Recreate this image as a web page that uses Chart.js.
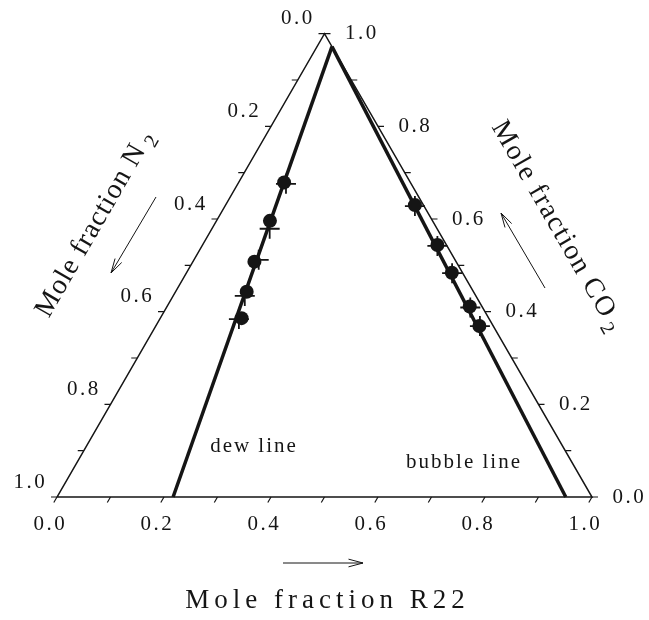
<!DOCTYPE html>
<html>
<head>
<meta charset="utf-8">
<script src="https://cdn.jsdelivr.net/npm/chart.js@4.4.1/dist/chart.umd.min.js"></script>
<style>
  html, body { margin: 0; padding: 0; background: #fff; }
  #wrap { width: 649px; height: 620px; }
</style>
</head>
<body>
<div id="wrap"><canvas id="ternaryChart" width="649" height="620"></canvas></div>
<script>
// mole fractions of N2 and CO2; R22 makes up the rest
const dewExpN2 = [0.236, 0.304, 0.377, 0.424, 0.462];
const dewExpCO2 = [0.679, 0.596, 0.508, 0.443, 0.386];
const dewCalcN2 = [0.234, 0.313, 0.367, 0.432, 0.468];
const dewCalcCO2 = [0.676, 0.579, 0.512, 0.434, 0.384];

const bubbleExpN2 = [0.016, 0.017, 0.020, 0.023, 0.026];
const bubbleExpCO2 = [0.630, 0.544, 0.484, 0.411, 0.369];
const bubbleCalcN2 = [0.017, 0.018, 0.020, 0.023, 0.025];
const bubbleCalcCO2 = [0.628, 0.542, 0.483, 0.409, 0.369];

// end points of the two phase boundaries
const dewLineN2 = [0.0, 0.783];
const dewLineCO2 = [0.972, 0.0];
const bubbleLineN2 = [0.0, 0.049];
const bubbleLineCO2 = [0.972, 0.0];

const tickSteps = [0, 0.1, 0.2, 0.3, 0.4, 0.5, 0.6, 0.7, 0.8, 0.9, 1.0];
const tickLabels = ["0.0", "0.2", "0.4", "0.6", "0.8", "1.0"];
const labelSteps = [0, 0.2, 0.4, 0.6, 0.8, 1.0];

const ink = "#151515";
const serif = "'Liberation Serif', 'DejaVu Serif', serif";
const H = Math.sqrt(3) / 2;

// ternary -> cartesian: R22 corner bottom right, N2 bottom left, CO2 on top
function toXY(n2, co2) {
  const r22 = 1 - n2 - co2;
  return { x: r22 + 0.5 * co2, y: co2 * H };
}

function series(n2s, co2s) {
  return n2s.map((n, i) => toXY(n, co2s[i]));
}

const frame = [toXY(1, 0), toXY(0, 0), toXY(0, 1), toXY(1, 0)];

function spaced(ctx, str, x, y, gap) {
  // centred text with extra room between the characters
  const chars = [...str];
  const widths = chars.map(c => ctx.measureText(c).width);
  const total = widths.reduce((a, b) => a + b, 0) + gap * (chars.length - 1);
  let cx = x - total / 2;
  ctx.textAlign = "left";
  chars.forEach((c, i) => {
    ctx.fillText(c, cx, y);
    cx += widths[i] + gap;
  });
}

function title(ctx, main, sub, cx, cy, angle, size, gap) {
  ctx.save();
  ctx.translate(cx, cy);
  ctx.rotate(angle);
  ctx.font = size + "px " + serif;
  const chars = [...main];
  const widths = chars.map(c => ctx.measureText(c).width);
  let mainW = widths.reduce((a, b) => a + b, 0) + gap * (chars.length - 1);
  ctx.font = Math.round(size * 0.72) + "px " + serif;
  const subW = sub ? ctx.measureText(sub).width + 6 : 0;
  let x = -(mainW + subW) / 2;
  ctx.font = size + "px " + serif;
  ctx.textAlign = "left";
  ctx.textBaseline = "middle";
  chars.forEach((c, i) => {
    ctx.fillText(c, x, 0);
    x += widths[i] + gap;
  });
  if (sub) {
    ctx.font = Math.round(size * 0.72) + "px " + serif;
    ctx.fillText(sub, x + 6 - gap, size * 0.3);
  }
  ctx.restore();
}

function arrow(ctx, x1, y1, x2, y2) {
  const a = Math.atan2(y2 - y1, x2 - x1);
  const len = 15, spread = 0.26;
  ctx.beginPath();
  ctx.moveTo(x1, y1);
  ctx.lineTo(x2, y2);
  ctx.moveTo(x2 - len * Math.cos(a - spread), y2 - len * Math.sin(a - spread));
  ctx.lineTo(x2, y2);
  ctx.lineTo(x2 - len * Math.cos(a + spread), y2 - len * Math.sin(a + spread));
  ctx.stroke();
}

const ternaryDecor = {
  id: "ternaryDecor",
  afterDatasetsDraw(chart) {
    const ctx = chart.ctx;
    const xs = chart.scales.x, ys = chart.scales.y;
    const pix = (n2, co2) => {
      const p = toXY(n2, co2);
      return [xs.getPixelForValue(p.x), ys.getPixelForValue(p.y)];
    };
    ctx.save();
    ctx.strokeStyle = ink;
    ctx.fillStyle = ink;
    ctx.lineWidth = 1.2;

    // tick marks on the three edges
    ctx.beginPath();
    tickSteps.forEach(v => {
      let [x, y] = pix(1 - v, 0);
      ctx.moveTo(x, y); ctx.lineTo(x - 3.2, y + 5.5);
      [x, y] = pix(v, 1 - v);
      ctx.moveTo(x, y); ctx.lineTo(x - 6, y);
      [x, y] = pix(0, v);
      ctx.moveTo(x, y); ctx.lineTo(x + 6, y);
    });
    ctx.stroke();

    // tick labels
    ctx.font = "21px " + serif;
    ctx.textBaseline = "middle";
    labelSteps.forEach((v, i) => {
      let [x, y] = pix(1 - v, 0);
      spaced(ctx, tickLabels[i], x - 8, y + 27, 2.5);
      [x, y] = pix(v, 1 - v);
      spaced(ctx, tickLabels[i], x - 28, y - 15, 2.5);
      [x, y] = pix(0, v);
      spaced(ctx, tickLabels[i], x + 36, y, 2.5);
    });

    // curve names
    ctx.font = "21px " + serif;
    spaced(ctx, "dew line", 253, 446, 2);
    spaced(ctx, "bubble line", 463, 462, 2);

    // axis titles
    title(ctx, "Mole fraction R22", "", 325, 601, 0, 27, 5);
    title(ctx, "Mole fraction N", "2", 95, 224, -Math.PI / 3, 28, 1);
    title(ctx, "Mole fraction CO", "2", 557, 226, Math.PI / 3, 28, 1.5);

    // direction arrows
    ctx.lineWidth = 1;
    arrow(ctx, 283, 563, 363, 563);
    arrow(ctx, 156, 197, 111, 273);
    arrow(ctx, 545, 288, 501, 213);
    ctx.restore();
  }
};

const ctx = document.getElementById("ternaryChart").getContext("2d");
new Chart(ctx, {
  type: "scatter",
  data: {
    datasets: [
      {
        data: series(dewExpN2, dewExpCO2),
        pointStyle: "circle", pointRadius: 7,
        backgroundColor: ink, borderWidth: 0, order: 1, clip: false
      },
      {
        data: series(bubbleExpN2, bubbleExpCO2),
        pointStyle: "circle", pointRadius: 7,
        backgroundColor: ink, borderWidth: 0, order: 1, clip: false
      },
      {
        data: series(dewCalcN2, dewCalcCO2),
        pointStyle: "cross", pointRadius: 10,
        borderColor: ink, borderWidth: 1.8, order: 2, clip: false
      },
      {
        data: series(bubbleCalcN2, bubbleCalcCO2),
        pointStyle: "cross", pointRadius: 10,
        borderColor: ink, borderWidth: 1.8, order: 2, clip: false
      },
      {
        data: series(dewLineN2, dewLineCO2),
        showLine: true, borderColor: ink, borderWidth: 3.5,
        pointRadius: 0, order: 3, clip: false
      },
      {
        data: series(bubbleLineN2, bubbleLineCO2),
        showLine: true, borderColor: ink, borderWidth: 3.5,
        pointRadius: 0, order: 3, clip: false
      },
      {
        data: frame,
        showLine: true, borderColor: ink, borderWidth: 1.5,
        pointRadius: 0, order: 4, clip: false
      }
    ]
  },
  options: {
    responsive: false,
    animation: false,
    layout: { padding: { left: 57, right: 57, top: 32, bottom: 123 } },
    plugins: { legend: { display: false }, tooltip: { enabled: false } },
    scales: {
      x: { type: "linear", min: 0, max: 1, display: false },
      y: { type: "linear", min: 0, max: 465 / 535, display: false }
    }
  },
  plugins: [ternaryDecor]
});
</script>
</body>
</html>
